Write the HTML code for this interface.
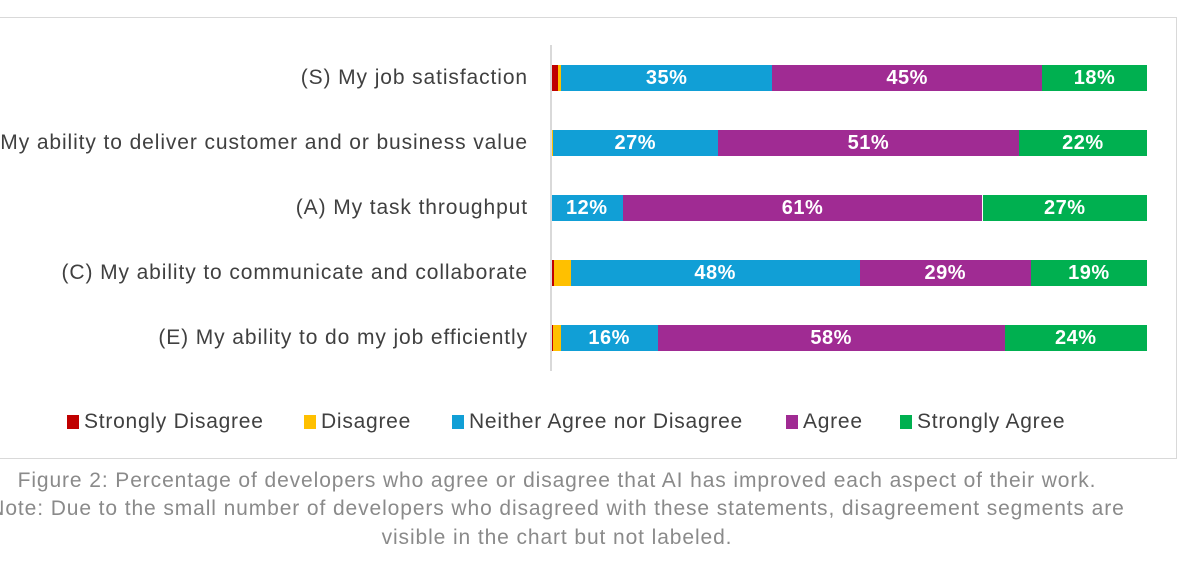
<!DOCTYPE html>
<html><head><meta charset="utf-8"><style>
body{margin:0;width:1200px;height:576px;background:#fff;overflow:hidden;font-family:"Liberation Sans",sans-serif;position:relative}
#frame{position:absolute;left:-5px;top:17px;width:1182px;height:442px;border:1.5px solid #d9d9d9;box-sizing:border-box}
.lab{position:absolute;right:672px;font-size:21px;letter-spacing:0.9px;color:#404040;white-space:nowrap;transform:translateY(-50%)}
.seg{position:absolute;height:26px;color:#fff;font-size:20px;font-weight:bold;letter-spacing:0.5px;display:flex;align-items:center;justify-content:center;overflow:hidden}
.leg{position:absolute;top:410px;font-size:21px;letter-spacing:0.75px;color:#404040;white-space:nowrap}
.leg i{display:inline-block;width:12px;height:14px;margin-right:5px;vertical-align:-1px}
.cap{position:absolute;left:557px;transform:translateX(-50%);font-size:21px;letter-spacing:0.9px;color:#8a8a8a;white-space:nowrap}
</style></head><body>
<div id="frame"></div>
<div id="chart"></div>
<div style="position:absolute;left:550px;top:45px;width:1.5px;height:326px;background:#d9d9d9"></div>
<div>
<div class="leg" style="left:67px"><i style="background:#c00000"></i>Strongly Disagree</div>
<div class="leg" style="left:304px"><i style="background:#ffc000"></i>Disagree</div>
<div class="leg" style="left:452px"><i style="background:#119fd6"></i>Neither Agree nor Disagree</div>
<div class="leg" style="left:786px"><i style="background:#a02b93"></i>Agree</div>
<div class="leg" style="left:900px"><i style="background:#00b050"></i>Strongly Agree</div>
</div>
<div class="cap" style="top:469px">Figure 2: Percentage of developers who agree or disagree that AI has improved each aspect of their work.</div>
<div class="cap" style="top:497px">Note: Due to the small number of developers who disagreed with these statements, disagreement segments are</div>
<div class="cap" style="top:526px">visible in the chart but not labeled.</div>
<script>
const categories=["(S) My job satisfaction","(V) My ability to deliver customer and or business value","(A) My task throughput","(C) My ability to communicate and collaborate","(E) My ability to do my job efficiently"];
const stronglyDisagree=[1.2,0,0,0.5,0.3];
const disagree=[0.5,0.3,0,2.8,1.3];
const neither=[35.4,27.7,12,48.5,16.3];
const agree=[45.3,50.5,60.4,28.7,58.2];
const stronglyAgree=[17.6,21.5,27.6,19.5,23.9];
const neitherLabels=["35%","27%","12%","48%","16%"];
const agreeLabels=["45%","51%","61%","29%","58%"];
const saLabels=["18%","22%","27%","19%","24%"];
const series=[[stronglyDisagree,"#c00000",null,"strongly-disagree"],[disagree,"#ffc000",null,"disagree"],[neither,"#119fd6",neitherLabels,"neither"],[agree,"#a02b93",agreeLabels,"agree"],[stronglyAgree,"#00b050",saLabels,"strongly-agree"]];
const x0=551,x100=1147,yTop=78,yStep=65;
const xs=v=>v/100*(x100-x0);
const yc=i=>yTop+i*yStep;
const chart=document.getElementById('chart');
categories.forEach((c,i)=>{
  const l=document.createElement('div');
  l.className='lab';l.textContent=c;l.style.top=yc(i)+'px';
  
  
  chart.appendChild(l);
  let acc=0;
  series.forEach(s=>{
    const v=s[0][i];
    const d=document.createElement('div');
    d.className='seg';
    d.style.left=(x0+xs(acc))+'px';d.style.width=xs(v)+'px';
    d.style.top=(yc(i)-13)+'px';d.style.background=s[1];
    if(s[2])d.textContent=s[2][i];
    
    
    chart.appendChild(d);
    acc+=v;
  });
});
</script>
</body></html>
